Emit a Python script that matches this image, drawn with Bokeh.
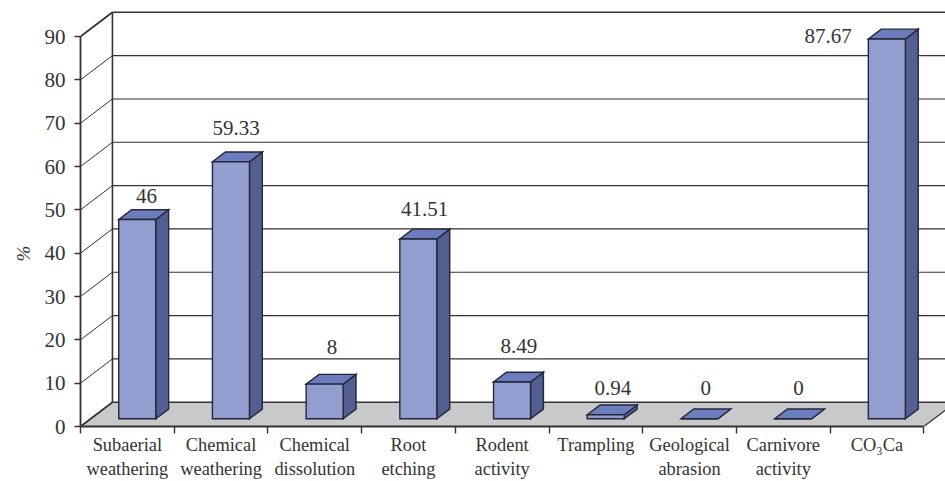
from bokeh.plotting import figure
from bokeh.models import FixedTicker, ColumnDataSource, Range1d, Title
from bokeh.core.properties import value
from bokeh.embed import file_html
from bokeh.resources import INLINE

categories = ["Subaerial\nweathering", "Chemical\nweathering", "Chemical\ndissolution",
              "Root\netching", "Rodent\nactivity", "Trampling", "Geological\nabrasion",
              "Carnivore\nactivity", "CO\u2083Ca"]
percent = [46, 59.33, 8, 41.51, 8.49, 0.94, 0, 0, 87.67]
value_labels = ["46", "59.33", "8", "41.51", "8.49", "0.94", "0", "0", "87.67"]
y_ticks = [0, 10, 20, 30, 40, 50, 60, 70, 80, 90]

# screen nudges for the value labels, relative to each bar's front top centre
label_dx = [9, 5, 7, 6, 6.5, 7, 6, 5, -59]
label_dy = [23, 34, 37, 30, 36, 27, 31, 31, 3]

# oblique projection: full depth of the box, in data units
DEPTH_X = 0.341
DEPTH_Y = 5.6
BAR_FRONT = 0.317   # depth fraction of a bar's front face
BAR_BACK = 0.72     # depth fraction of a bar's rear face
BAR_LEFT, BAR_RIGHT = 0.30, 0.695

SERIF = "Liberation Serif"
INK = "#333333"
FRONT, SIDE, TOP = "#939ed0", "#535f92", "#6b7dbd"
EDGE = "#25263a"
n = len(categories)

p = figure(width=945, height=481, output_backend="svg", toolbar_location=None,
           frame_width=865, frame_height=426,
           x_range=Range1d(0, 865 / 93.7), y_range=Range1d(0, 426 / 4.333),
           min_border_left=80, min_border_right=0, min_border_top=0, min_border_bottom=55)
p.outline_line_color = None
p.background_fill_color = "white"
p.grid.visible = False


def project(x, v, depth):
    return x + DEPTH_X * depth, v + DEPTH_Y * depth


# floor
floor_pts = [project(0, 0, 0), project(n, 0, 0), project(n, 0, 1), project(0, 0, 1)]
p.patch([a for a, _ in floor_pts], [b for _, b in floor_pts], fill_color="#c8c9cb", line_color=None)

# back wall grid and the matching strokes on the side wall
for t in y_ticks:
    lw = 1.6 if t in (0, 90) else 1.1
    back_l = project(0, t, 1)
    back_r = project(n, t, 1)
    p.line([back_l[0], back_r[0]], [back_l[1], back_r[1]], line_color=INK, line_width=lw)
    front = project(0, t, 0)
    p.line([front[0], back_l[0]], [front[1], back_l[1]], line_color=INK,
           line_width=1.8 if t in (0, 90) else 1)
wall_a, wall_b = project(0, 0, 1), project(0, 90, 1)
p.line([wall_a[0], wall_b[0]], [wall_a[1], wall_b[1]], line_color=INK, line_width=1.6)
# right edge of the floor
edge_a, edge_b = project(n, 0, 0), project(n, 0, 1)
p.line([edge_a[0], edge_b[0]], [edge_a[1], edge_b[1]], line_color=INK, line_width=1.2)

# bars: side face, top face, front face
side_x, side_y, top_x, top_y, front_x, front_y = [], [], [], [], [], []
for i, v in enumerate(percent):
    xl, xr = i + BAR_LEFT, i + BAR_RIGHT
    corners_side = [project(xr, 0, BAR_FRONT), project(xr, 0, BAR_BACK),
                    project(xr, v, BAR_BACK), project(xr, v, BAR_FRONT)]
    corners_top = [project(xl, v, BAR_FRONT), project(xr, v, BAR_FRONT),
                   project(xr, v, BAR_BACK), project(xl, v, BAR_BACK)]
    corners_front = [project(xl, 0, BAR_FRONT), project(xr, 0, BAR_FRONT),
                     project(xr, v, BAR_FRONT), project(xl, v, BAR_FRONT)]
    side_x.append([c[0] for c in corners_side]); side_y.append([c[1] for c in corners_side])
    top_x.append([c[0] for c in corners_top]); top_y.append([c[1] for c in corners_top])
    front_x.append([c[0] for c in corners_front]); front_y.append([c[1] for c in corners_front])

p.patches(side_x, side_y, fill_color=SIDE, line_color=EDGE, line_width=1.4, line_join="miter")
p.patches(top_x, top_y, fill_color=TOP, line_color=EDGE, line_width=1.4, line_join="miter")
p.patches(front_x, front_y, fill_color=FRONT, line_color=EDGE, line_width=1.4, line_join="miter")

# value labels
centres = [project(i + 0.5, v, BAR_FRONT) for i, v in enumerate(percent)]
src = ColumnDataSource(dict(x=[c[0] for c in centres], y=[c[1] for c in centres],
                            text=value_labels, dx=label_dx, dy=[-d for d in label_dy]))
p.text("x", "y", text="text", source=src, x_offset="dx", y_offset="dy",
       text_font=value(SERIF), text_font_size="21px", text_color=INK,
       text_align="center", text_baseline="middle")

# axes
ya = p.yaxis[0]
ya.ticker = FixedTicker(ticks=y_ticks)
ya.bounds = (0, 90)
ya.axis_line_color = INK
ya.axis_line_width = 1.8
ya.major_tick_line_color = INK
ya.major_tick_line_width = 1.6
ya.major_tick_out = 6
ya.major_tick_in = 0
ya.minor_tick_line_color = None
ya.major_label_standoff = 9
ya.major_label_text_font = SERIF
ya.major_label_text_font_size = "21px"
ya.major_label_text_color = INK

# the y title sits beside the 40 tick, below the middle of the frame
p.add_layout(Title(text="%", align="left", offset=165, standoff=16, text_font=SERIF,
                   text_font_style="italic", text_font_size="19px", text_color=INK), "left")

xa = p.xaxis[0]
xa.ticker = FixedTicker(ticks=[i + 0.5 for i in range(n)], minor_ticks=list(range(n + 1)))
xa.major_label_overrides = {i + 0.5: c for i, c in enumerate(categories)}
xa.bounds = (0, n)
xa.axis_line_color = INK
xa.axis_line_width = 1.8
xa.major_tick_line_color = None
xa.major_tick_out = 7
xa.major_tick_in = 0
xa.minor_tick_line_color = INK
xa.minor_tick_line_width = 1.4
xa.minor_tick_out = 7
xa.minor_tick_in = 0
xa.major_label_standoff = 1
xa.major_label_text_font = SERIF
xa.major_label_text_font_size = "18.4px"
xa.major_label_text_color = INK
xa.major_label_orientation = "horizontal"

open("out.html", "w").write(file_html(p, INLINE))
